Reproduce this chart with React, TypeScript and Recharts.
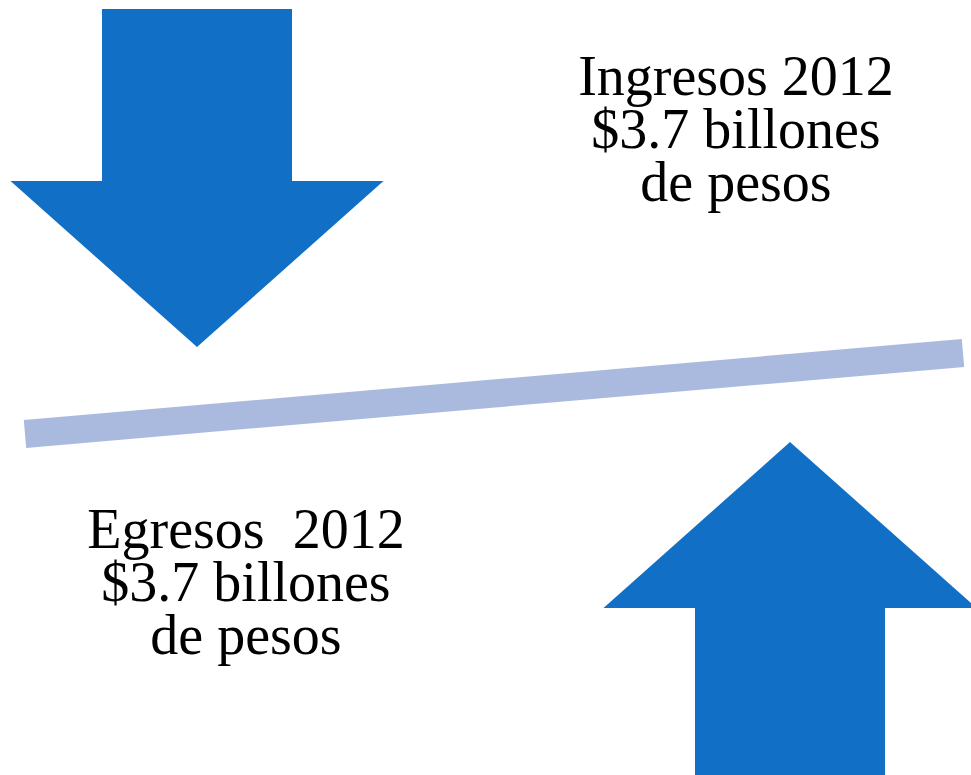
import { ComposedChart, XAxis, YAxis, Line, Scatter } from "recharts";

// layout units match the 971x775 canvas
const arrowTips = [
  { x: 197, y: 347, dir: "down" },
  { x: 790, y: 442, dir: "up" },
];

const balanceBar = [
  { x: 25, y: 434 },
  { x: 963, y: 353 },
];

const ingresosLines = ["Ingresos 2012", "$3.7 billones", "de pesos"];
const egresosLines = ["Egresos  2012", "$3.7 billones", "de pesos"];

const textBlocks = [
  { x: 736, y: 95, lines: ingresosLines },
  { x: 246, y: 548, lines: egresosLines },
];

const ARROW_BLUE = "#1170c6";
const BAR_COLOR = "#aabadf";
const HEAD_W = 373;
const HEAD_H = 166;
const SHAFT_W = 190;
const SHAFT_L = 172;
const LINE_GAP = 53;

const Arrow = (props: any) => {
  const { cx, cy, payload } = props;
  const s = payload.dir === "down" ? -1 : 1;
  const base = cy + s * HEAD_H;
  const end = base + s * SHAFT_L;
  const pts = [
    [cx, cy],
    [cx + HEAD_W / 2, base],
    [cx + SHAFT_W / 2, base],
    [cx + SHAFT_W / 2, end],
    [cx - SHAFT_W / 2, end],
    [cx - SHAFT_W / 2, base],
    [cx - HEAD_W / 2, base],
  ]
    .map((p) => p.join(","))
    .join(" ");
  return <polygon points={pts} fill={ARROW_BLUE} />;
};

const TextBlock = (props: any) => {
  const { cx, cy, payload } = props;
  return (
    <text
      x={cx}
      y={cy}
      textAnchor="middle"
      fontFamily="'Liberation Serif', serif"
      fontSize={56}
      fill="#000"
      style={{ whiteSpace: "pre" }}
    >
      {payload.lines.map((t: string, i: number) => (
        <tspan key={i} x={cx} dy={i === 0 ? 0 : LINE_GAP}>
          {t}
        </tspan>
      ))}
    </text>
  );
};

export default function App() {
  return (
    <div style={{ position: "absolute", left: 0, top: 0, background: "#fff" }}>
      <ComposedChart width={971} height={775} margin={{ top: 0, right: 0, bottom: 0, left: 0 }}>
        <XAxis type="number" dataKey="x" domain={[0, 971]} hide />
        <YAxis type="number" dataKey="y" domain={[0, 775]} reversed hide />
        <Line
          data={balanceBar}
          dataKey="y"
          type="linear"
          stroke={BAR_COLOR}
          strokeWidth={28}
          strokeLinecap="butt"
          dot={false}
          activeDot={false}
          isAnimationActive={false}
        />
        <Scatter data={arrowTips} dataKey="y" shape={Arrow} isAnimationActive={false} />
        <Scatter data={textBlocks} dataKey="y" shape={TextBlock} isAnimationActive={false} />
      </ComposedChart>
    </div>
  );
}
